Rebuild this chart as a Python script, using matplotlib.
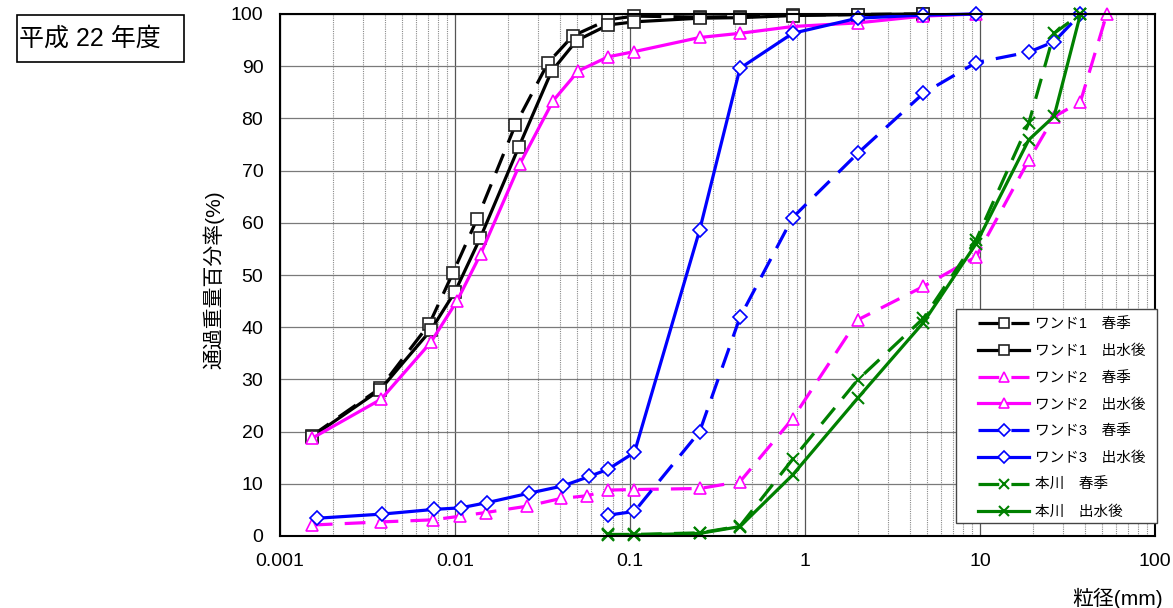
import matplotlib
matplotlib.use("Agg")
import matplotlib.pyplot as plt
from matplotlib.patches import Rectangle
from matplotlib.ticker import LogLocator, FixedLocator, FixedFormatter, NullFormatter

plt.rcParams['font.family'] = ['Liberation Sans', 'Noto Sans CJK JP', 'DejaVu Sans']

# ---------------- data ----------------
w1s_x = [0.00152, 0.00373, 0.00713, 0.0097, 0.01336, 0.0221, 0.0341, 0.0471, 0.075, 0.106, 0.25, 0.425, 0.85, 2.0, 4.75]
w1s_y = [19.2, 28.3, 40.6, 50.3, 60.7, 78.7, 90.7, 95.8, 98.9, 99.6, 99.4, 99.5, 99.8, 99.9, 100]

w1a_x = [0.00152, 0.00373, 0.0073, 0.0100, 0.0139, 0.0232, 0.0356, 0.0495, 0.075, 0.106, 0.25, 0.425, 0.85, 2.0, 4.75]
w1a_y = [19.0, 28.0, 39.5, 46.8, 57.0, 74.6, 89.0, 94.9, 97.9, 98.5, 99.2, 99.3, 99.7, 99.9, 100]

w2s_x = [0.00152, 0.0038, 0.00752, 0.0107, 0.0150, 0.0257, 0.0404, 0.0566, 0.075, 0.106, 0.25, 0.425, 0.85, 2.0, 4.75, 9.5, 19, 26.5, 37.5, 53]
w2s_y = [2.1, 2.7, 3.1, 3.8, 4.5, 5.7, 7.2, 7.7, 8.8, 8.9, 9.1, 10.4, 22.5, 41.4, 47.8, 53.5, 72.0, 80.3, 83.2, 100]

w2a_x = [0.00152, 0.00378, 0.00727, 0.0103, 0.0140, 0.0235, 0.0364, 0.0507, 0.075, 0.106, 0.25, 0.425, 0.85, 2.0, 4.75, 9.5]
w2a_y = [18.7, 26.2, 37.1, 45.1, 54.0, 71.3, 83.4, 89.1, 91.8, 92.8, 95.5, 96.3, 97.6, 98.3, 99.6, 100]

w3s_x = [0.075, 0.106, 0.25, 0.425, 0.85, 2.0, 4.75, 9.5, 19, 26.5, 37.5]
w3s_y = [4.0, 4.7, 20.0, 41.9, 61.0, 73.3, 84.8, 90.7, 92.7, 94.7, 100]

w3a_x = [0.00162, 0.00384, 0.00761, 0.0108, 0.0153, 0.0265, 0.0414, 0.0585, 0.075, 0.106, 0.25, 0.425, 0.85, 2.0, 4.75, 9.5]
w3a_y = [3.4, 4.2, 5.1, 5.4, 6.4, 8.2, 9.6, 11.4, 12.8, 16.0, 58.6, 89.6, 96.3, 99.2, 99.8, 100]

hs_x = [0.075, 0.106, 0.25, 0.425, 0.85, 2.0, 4.75, 9.5, 19, 26.5, 37.5]
hs_y = [0.3, 0.3, 0.6, 1.9, 14.7, 29.9, 41.7, 56.7, 79.1, 96.3, 100]

ha_x = [0.075, 0.106, 0.25, 0.425, 0.85, 2.0, 4.75, 9.5, 19, 26.5, 37.5]
ha_y = [0.2, 0.2, 0.5, 1.8, 11.7, 26.4, 40.9, 56.0, 75.9, 80.4, 100]

labels = ['ワンド1\u3000春季', 'ワンド1\u3000出水後', 'ワンド2\u3000春季', 'ワンド2\u3000出水後',
          'ワンド3\u3000春季', 'ワンド3\u3000出水後', '本川\u3000春季', '本川\u3000出水後']

x_ticks = [0.001, 0.01, 0.1, 1, 10, 100]
x_tick_labels = ['0.001', '0.01', '0.1', '1', '10', '100']
y_ticks = list(range(0, 101, 10))

# ---------------- figure ----------------
W, H = 1173, 608
fig = plt.figure(figsize=(W / 100, H / 100), dpi=100)
ax = fig.add_axes([280 / W, 1 - 536 / H, 875 / W, 522 / H])

lw = 2.3
dash = (6.5, 3.8)
ms = 9
series = [
    (w1s_x, w1s_y, 'black', 's', True, ms),
    (w1a_x, w1a_y, 'black', 's', False, ms),
    (w2s_x, w2s_y, '#FF00FF', '^', True, ms),
    (w2a_x, w2a_y, '#FF00FF', '^', False, ms),
    (w3s_x, w3s_y, '#0000FF', 'D', True, 7),
    (w3a_x, w3a_y, '#0000FF', 'D', False, 7),
    (hs_x, hs_y, '#008000', 'x', True, 8),
    (ha_x, ha_y, '#008000', 'x', False, 8),
]
handles = []
for (xs, ys, c, m, dashed, s), lab in zip(series, labels):
    kw = dict(color=c, lw=lw, marker=m, markersize=s, label=lab, clip_on=False)
    if m == 'x':
        kw.update(markeredgecolor=c, markeredgewidth=1.5)
    else:
        kw.update(markerfacecolor='white', markeredgecolor=c if c != 'black' else '#222222',
                  markeredgewidth=1.2)
    line, = ax.plot(xs, ys, **kw)
    if dashed:
        line.set_dashes(dash)
    handles.append(line)

ax.set_xscale('log')
ax.set_xlim(0.001, 100)
ax.set_ylim(0, 100)
ax.xaxis.set_major_locator(FixedLocator(x_ticks))
ax.xaxis.set_major_formatter(FixedFormatter(x_tick_labels))
ax.xaxis.set_minor_locator(LogLocator(base=10, subs=range(2, 10), numticks=100))
ax.xaxis.set_minor_formatter(NullFormatter())
ax.set_yticks(y_ticks)

ax.grid(True, which='major', axis='y', color='#7a7a7a', lw=0.9)
ax.grid(True, which='major', axis='x', color='#555555', lw=0.9)
ax.grid(True, which='minor', axis='x', color='#8a8a8a', lw=0.8, linestyle=(0, (1, 1)))
ax.set_axisbelow(True)
ax.tick_params(axis='both', which='both', length=0, labelsize=14)
ax.tick_params(axis='x', pad=12)
ax.tick_params(axis='y', pad=12)
for sp in ax.spines.values():
    sp.set_color('black')
    sp.set_linewidth(1.5)

fig.text(214 / W, 1 - 280 / H, '通過重量百分率(%)', rotation=90, ha='center', va='center', fontsize=15)
fig.text(1118 / W, 1 - 588 / H, '粒径(mm)', ha='center', va='top', fontsize=15)

# title box
fig.patches.append(Rectangle((17 / W, 1 - 62 / H), 167 / W, 47 / H, transform=fig.transFigure,
                             fill=False, edgecolor='black', lw=1.2))
fig.text(90 / W, 1 - 39 / H, '平成 22 年度', ha='center', va='center', fontsize=18)

# legend frame + legend
frame = Rectangle((955.7 / W, 1 - 522.7 / H), 201 / W, 213.7 / H, transform=fig.transFigure,
                  facecolor='white', edgecolor='#444444', lw=1.0, zorder=5, clip_on=False)
ax.add_artist(frame)
leg = ax.legend(handles=handles, loc='upper left', bbox_to_anchor=(978 / W, 1 - 317 / H),
                bbox_transform=fig.transFigure, frameon=False, fontsize=10.5, handlelength=3.5,
                handletextpad=0.4, labelspacing=0.88, borderpad=0, borderaxespad=0)
for h in leg.legend_handles:
    h.set_markersize(6.5)
leg.set_zorder(6)

fig.savefig('out.png', dpi=100)
